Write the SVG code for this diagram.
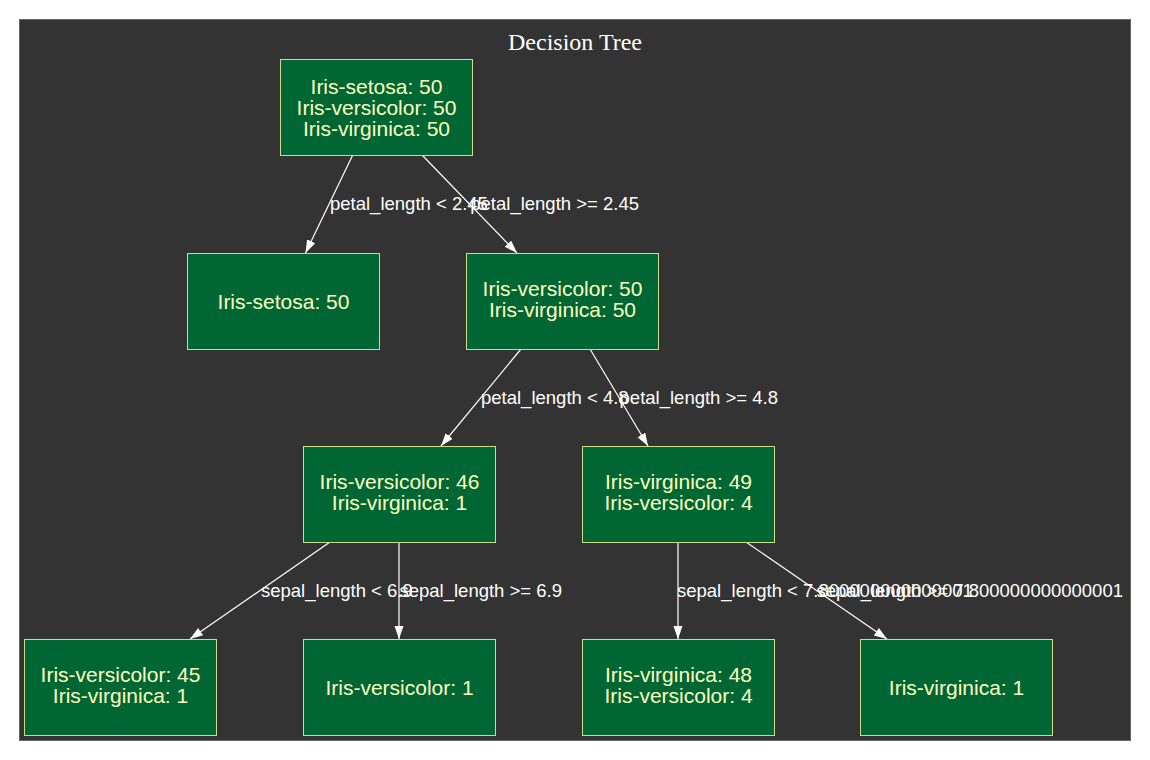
<svg xmlns="http://www.w3.org/2000/svg" width="1150" height="760" viewBox="0 0 1150 760">
<style>
.node rect{fill:#006633;stroke:#ccdd88;stroke-width:1}
.node text{font-family:"Liberation Sans",Arial,sans-serif;font-size:21px;fill:#ffffc0;text-anchor:middle}
.edge line{stroke:#ffffff;stroke-width:1.2}
.elabel{font-family:"Liberation Sans",Arial,sans-serif;font-size:18.5px;fill:#ffffff}
.title{font-family:"Liberation Serif","Times New Roman",serif;font-size:24px;fill:#ffffff;text-anchor:middle}
</style>
<defs>
<marker id="arr" markerUnits="userSpaceOnUse" markerWidth="14" markerHeight="10" refX="13" refY="4.5" orient="auto">
<path d="M0,0 L13,4.5 L0,9 z" fill="#ffffff"/>
</marker>
</defs>
<rect x="0" y="0" width="1150" height="760" fill="#ffffff"/>
<rect x="19.5" y="19.5" width="1111" height="721" fill="#333333" stroke="#666666" stroke-width="1"/>
<text class="title" x="575" y="50">Decision Tree</text>

<g id="connectors" class="edge">
<line x1="352.5" y1="155.5" x2="305.5" y2="253" marker-end="url(#arr)"/>
<line x1="422.5" y1="155.5" x2="517" y2="253" marker-end="url(#arr)"/>
<line x1="521" y1="349" x2="441" y2="446" marker-end="url(#arr)"/>
<line x1="590" y1="349" x2="648" y2="446" marker-end="url(#arr)"/>
<line x1="330" y1="542" x2="190" y2="639" marker-end="url(#arr)"/>
<line x1="399" y1="542" x2="399" y2="639" marker-end="url(#arr)"/>
<line x1="678" y1="542" x2="678" y2="639" marker-end="url(#arr)"/>
<line x1="746" y1="542" x2="887" y2="639" marker-end="url(#arr)"/>
<text class="elabel" x="330" y="210">petal_length &lt; 2.45</text>
<text class="elabel" x="639" y="210" text-anchor="end">petal_length &gt;= 2.45</text>
<text class="elabel" x="481" y="404">petal_length &lt; 4.8</text>
<text class="elabel" x="778" y="404" text-anchor="end">petal_length &gt;= 4.8</text>
<text class="elabel" x="261" y="597">sepal_length &lt; 6.9</text>
<text class="elabel" x="562" y="597" text-anchor="end">sepal_length &gt;= 6.9</text>
<text class="elabel" x="677" y="597">sepal_length &lt; 7.800000000000001</text>
<text class="elabel" x="1123" y="597" text-anchor="end">sepal_length &gt;= 7.800000000000001</text>
</g>

<g id="n0" class="node">
<rect x="280.5" y="59.5" width="192" height="96"/>
<text x="376.5" y="93.5">Iris-setosa: 50</text>
<text x="376.5" y="114.5">Iris-versicolor: 50</text>
<text x="376.5" y="135.5">Iris-virginica: 50</text>
</g>
<g id="n1" class="node">
<rect x="187.5" y="253.5" width="192" height="96"/>
<text x="283.5" y="308.5">Iris-setosa: 50</text>
</g>
<g id="n2" class="node">
<rect x="466.5" y="253.5" width="192" height="96"/>
<text x="562.5" y="296">Iris-versicolor: 50</text>
<text x="562.5" y="317">Iris-virginica: 50</text>
</g>
<g id="n3" class="node">
<rect x="303.5" y="446.5" width="192" height="96"/>
<text x="399.5" y="489">Iris-versicolor: 46</text>
<text x="399.5" y="510">Iris-virginica: 1</text>
</g>
<g id="n4" class="node">
<rect x="582.5" y="446.5" width="192" height="96"/>
<text x="678.5" y="489">Iris-virginica: 49</text>
<text x="678.5" y="510">Iris-versicolor: 4</text>
</g>
<g id="n5" class="node">
<rect x="24.5" y="639.5" width="192" height="96"/>
<text x="120.5" y="682">Iris-versicolor: 45</text>
<text x="120.5" y="703">Iris-virginica: 1</text>
</g>
<g id="n6" class="node">
<rect x="303.5" y="639.5" width="192" height="96"/>
<text x="399.5" y="694.5">Iris-versicolor: 1</text>
</g>
<g id="n7" class="node">
<rect x="582.5" y="639.5" width="192" height="96"/>
<text x="678.5" y="682">Iris-virginica: 48</text>
<text x="678.5" y="703">Iris-versicolor: 4</text>
</g>
<g id="n8" class="node">
<rect x="860.5" y="639.5" width="192" height="96"/>
<text x="956.5" y="694.5">Iris-virginica: 1</text>
</g>
</svg>
